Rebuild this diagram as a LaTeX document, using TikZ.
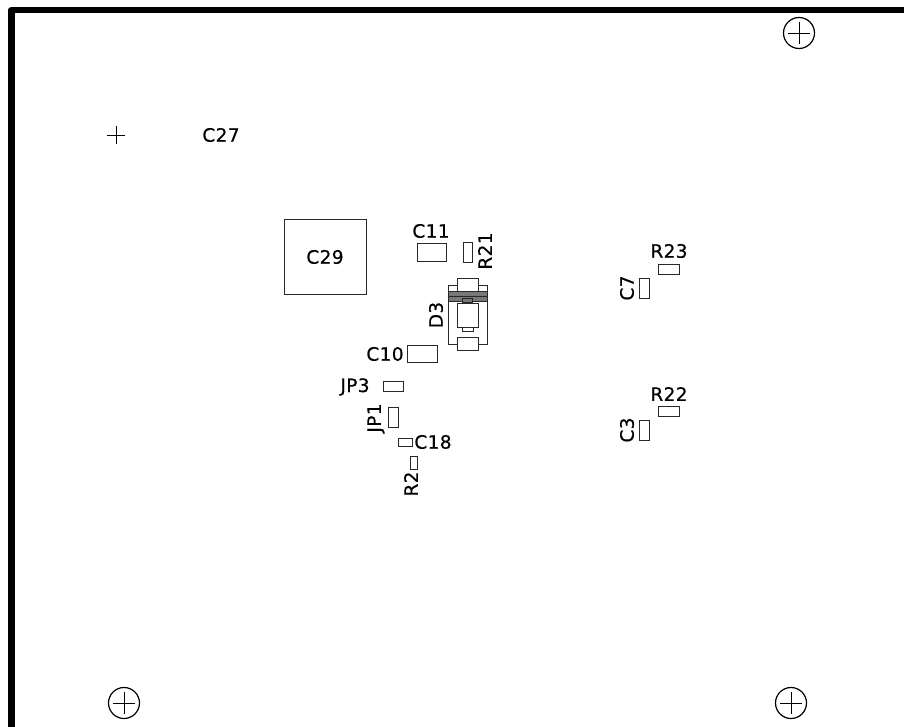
\documentclass[tikz,border=0pt]{standalone}
\usepackage{fontspec}
\setmainfont{DejaVu Sans}
\newfontfamily\pcbfont{DejaVu Sans}[FakeBold=0.4, LetterSpace=2]
\usetikzlibrary{positioning, calc}
\definecolor{padgray}{RGB}{40, 40, 40}
\definecolor{bandgray}{RGB}{120, 120, 120}

\begin{document}
\begin{tikzpicture}[
    x=1pt, y=-1pt,
    pad/.style={rectangle, inner sep=0pt, draw=padgray, line width=1pt, fill=white},
    refdes/.style={inner sep=0pt, text=black, font=\pcbfont\fontsize{18.5}{19}\selectfont},
    refrot/.style={refdes, rotate=90},
    hole/.style={circle, inner sep=0pt, minimum size=31, draw=black, line width=1.2pt},
    board/.style={line width=6.5pt, draw=black, line join=round}
]
\useasboundingbox (0,0) rectangle (904,727);

% Board outline
\coordinate (boardbl) at (11.5,727);
\coordinate (boardtl) at (11.5,10);
\coordinate (boardtr) at (904,10);
\draw [board] (boardbl) -- (boardtl) -- (boardtr);

% Mounting holes
\node (holetr) [hole] at (799,33) {};
\node (holebl) [hole] at (124,703) {};
\node (holebr) [hole] at (791,703) {};
\foreach \mount in {holetr, holebl, holebr} {
    \draw [line width=0.8pt] ($(\mount)+(-11,0)$) -- ($(\mount)+(11,0)$);
    \draw [line width=0.8pt] ($(\mount)+(0,-11)$) -- ($(\mount)+(0,11)$);
}

% Marker beside C27
\coordinate (markc) at (116,135);
\draw [line width=0.8pt] ($(markc)+(-9,0)$) -- ($(markc)+(9,0)$);
\draw [line width=0.8pt] ($(markc)+(0,-9)$) -- ($(markc)+(0,9)$);

% Pads
\node (c29pad) [pad, minimum width=82, minimum height=74] at (325,257) {};
\node (c11pad) [pad, minimum width=29, minimum height=17] at (431.5,252.5) {};
\node (r21pad) [pad, minimum width=9, minimum height=19] at (467.5,252.5) {};
\node (c10pad) [pad, minimum width=30, minimum height=17] at (422,353.5) {};
\node (jp3pad) [pad, minimum width=20, minimum height=10] at (393,386) {};
\node (jp1pad) [pad, minimum width=10, minimum height=20] at (393,417) {};
\node (c18pad) [pad, minimum width=14, minimum height=8] at (405,442) {};
\node (r2pad) [pad, minimum width=7, minimum height=13] at (413.5,462.5) {};
\node (r23pad) [pad, minimum width=21, minimum height=10] at (668.5,269) {};
\node (c7pad) [pad, minimum width=10, minimum height=20] at (644,288) {};
\node (r22pad) [pad, minimum width=21, minimum height=10] at (668.5,411) {};
\node (c3pad) [pad, minimum width=10, minimum height=20] at (644,430) {};

% Diode
\node (d3body) [pad, minimum width=39, minimum height=59] at (467.5,314.5) {};
\node (d3top) [pad, minimum width=21, minimum height=14] at (467.5,285) {};
\node (d3bottom) [pad, minimum width=21, minimum height=13] at (467.5,343.5) {};
\node (d3band) [rectangle, inner sep=0pt, fill=bandgray, draw=padgray, line width=0.8pt, minimum width=39, minimum height=10] at (467.5,296) {};
\draw [line width=1pt, draw=padgray] (d3band.west) -- (d3band.east);
\node (d3notch) [rectangle, inner sep=0pt, fill=bandgray, draw=padgray, line width=0.8pt, minimum width=10, minimum height=4] at (467,300) {};
\node (d3tab) [pad, minimum width=11, minimum height=4] at (467.5,329) {};
\node (d3case) [pad, minimum width=21, minimum height=24] at (467.5,315) {};

% Reference designators
\node (c27) [refdes] at (221,135) {C27};
\node (c29) [refdes] at (325,257) {C29};
\node (c11) [refdes] at (431,231) {C11};
\node (r21) [refrot] at (485,251) {R21};
\node (d3) [refrot] at (436,315) {D3};
\node (c10) [refdes] at (385,354) {C10};
\node (jp3) [refdes] at (355,387) {JP3};
\node (jp1) [refrot] at (376,418) {JP1};
\node (c18) [refdes] at (433,442) {C18};
\node (r2) [refrot] at (411,484) {R2};
\node (r23) [refdes] at (669,251) {R23};
\node (c7) [refrot] at (627,288) {C7};
\node (r22) [refdes] at (669,394) {R22};
\node (c3) [refrot] at (627,430) {C3};

\end{tikzpicture}
\end{document}
